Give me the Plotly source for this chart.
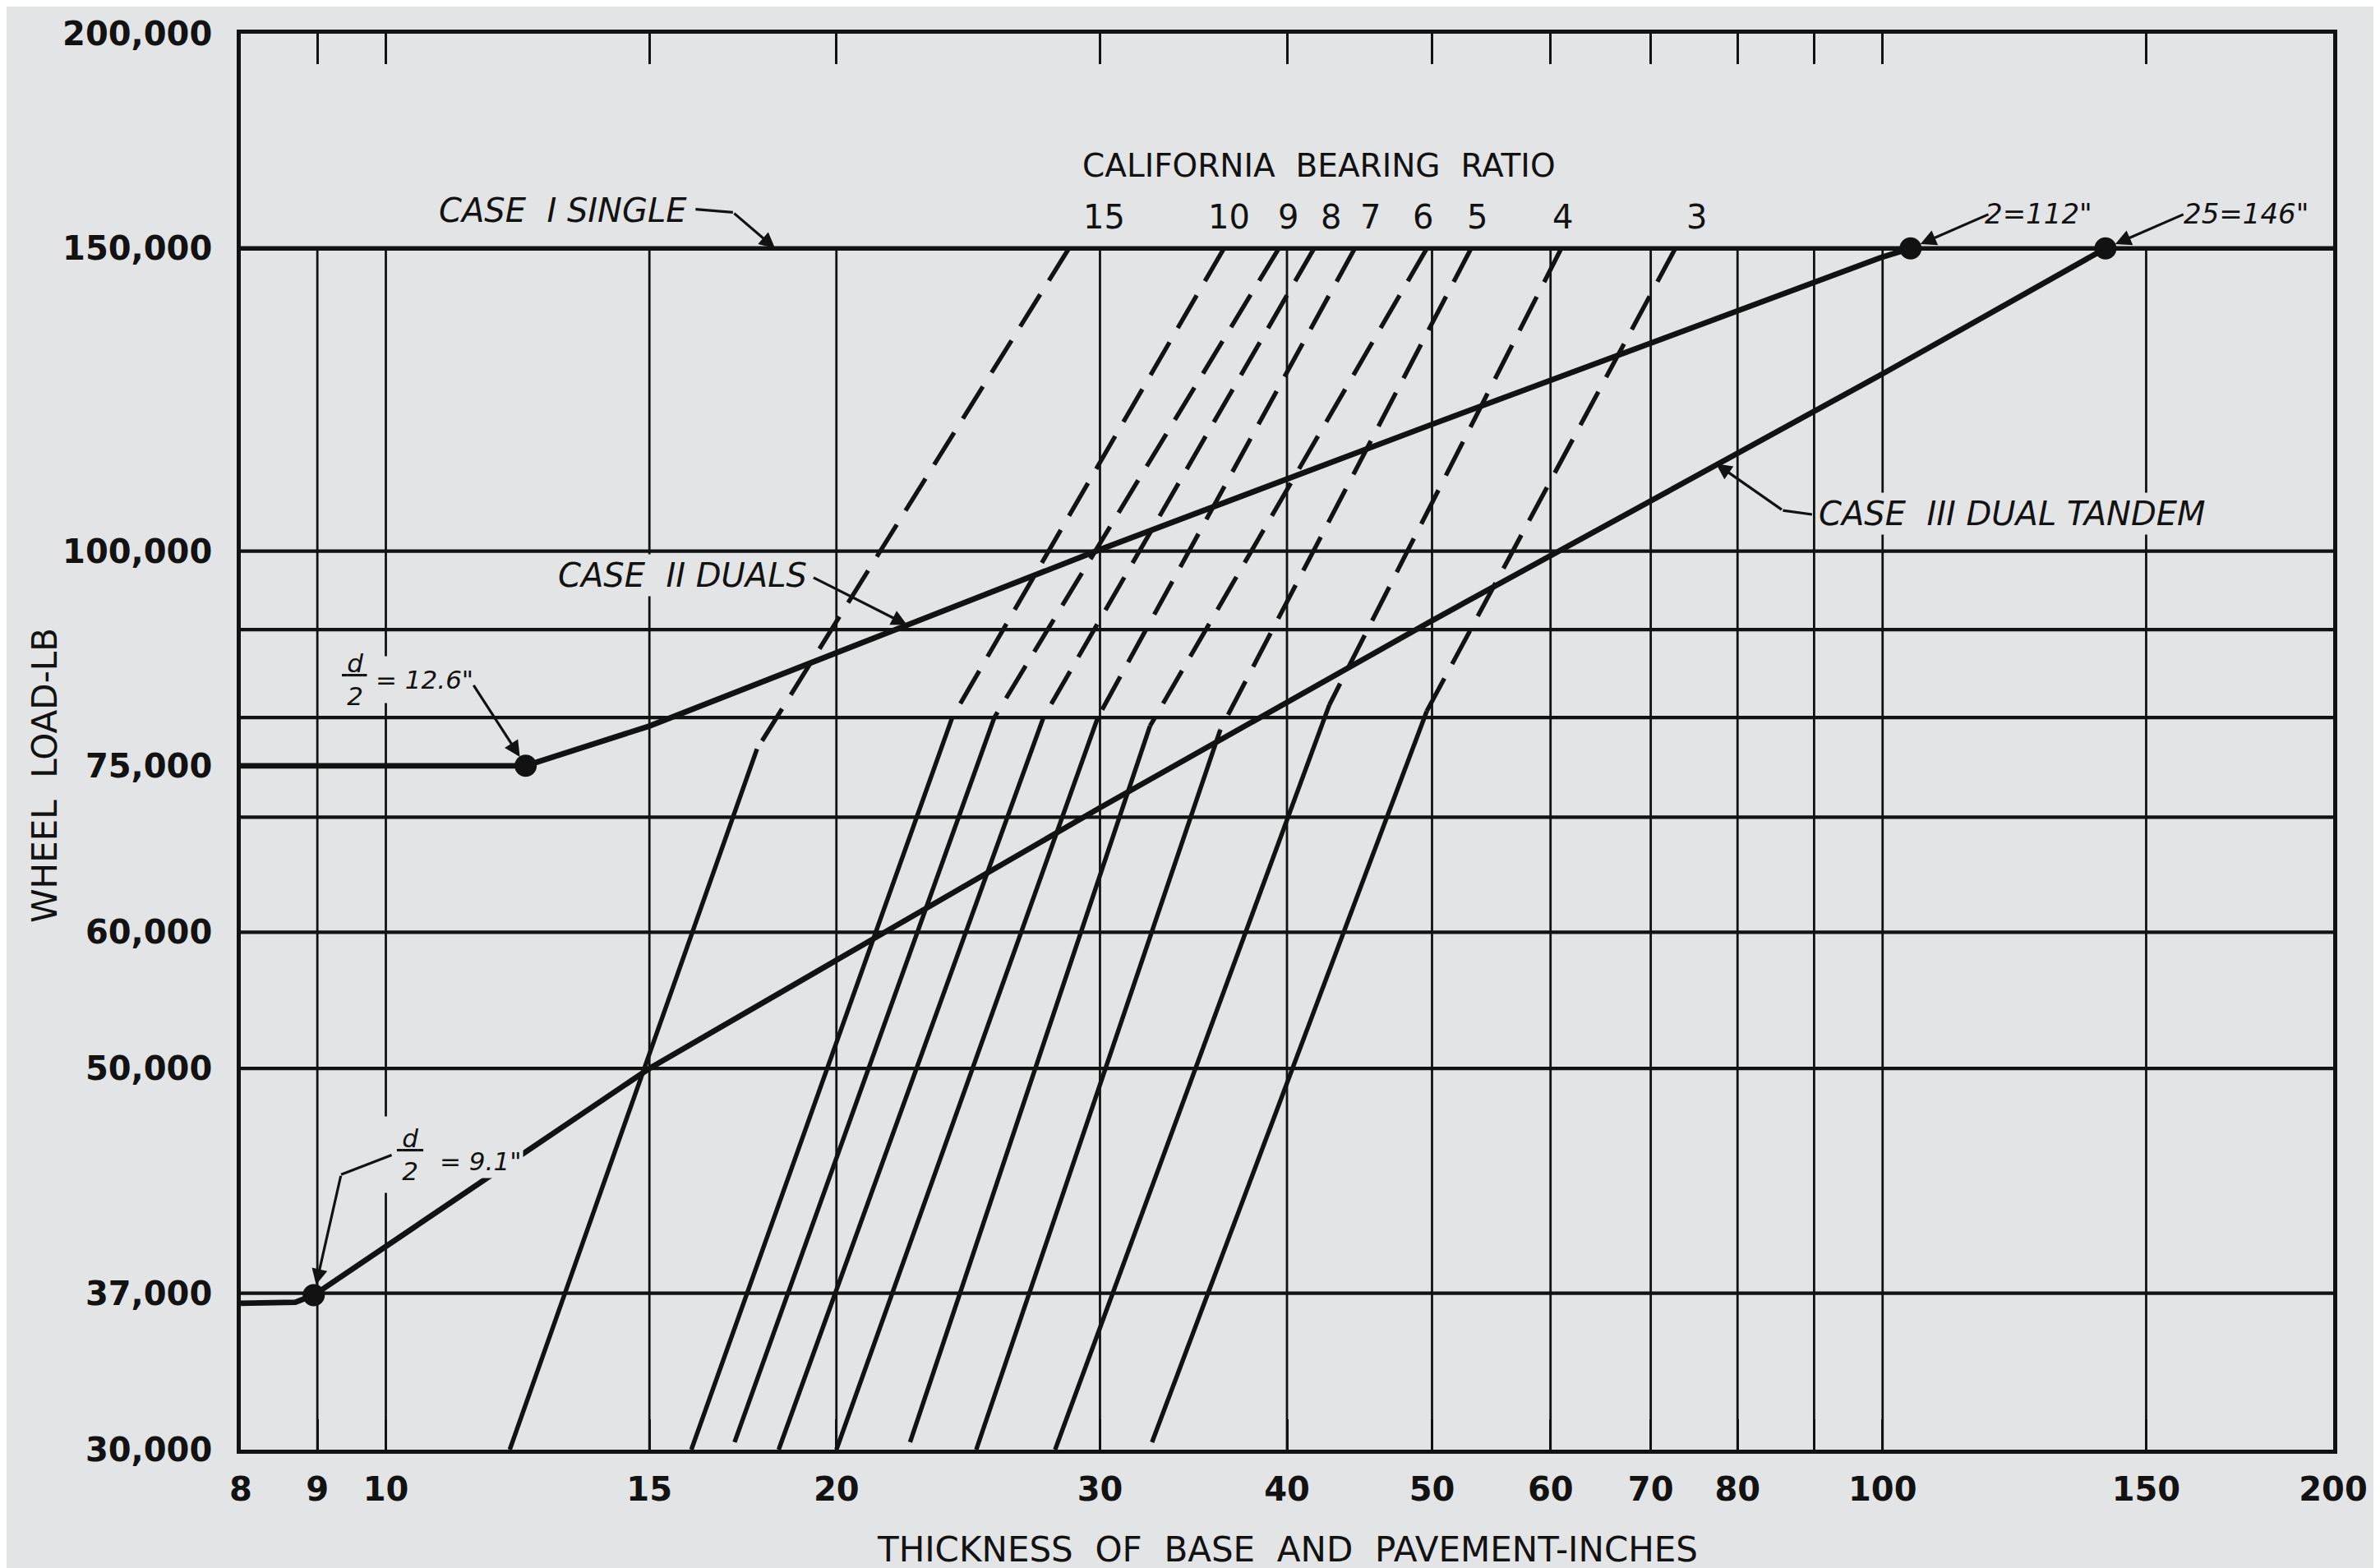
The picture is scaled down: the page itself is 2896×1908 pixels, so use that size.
import numpy as np
import plotly.graph_objects as go

# ---------------- data ----------------
x_tick_vals = [8, 9, 10, 15, 20, 30, 40, 50, 60, 70, 80, 90, 100, 150, 200]
x_tick_text = ["8", "9", "10", "15", "20", "30", "40", "50", "60", "70", "80", "", "100", "150", "200"]
y_tick_vals = [30000, 37000, 50000, 60000, 75000, 100000, 150000, 200000]
y_tick_text = ["30,000", "37,000", "50,000", "60,000", "75,000", "100,000", "150,000", "200,000"]

grid_x = [9, 10, 15, 20, 30, 40, 50, 60, 70, 80, 90, 100, 150]
grid_y = [37000, 50000, 60000, 70000, 80000, 90000, 100000]
grid_v_span = [30000, 150000]
grid_h_span = [8, 200]

cbr_values = ["15", "10", "9", "8", "7", "6", "5", "4", "3"]
cbr_bottom_x = [12.1, 16.0, 17.1, 18.3, 20.0, 22.4, 24.8, 28.0, 32.5]
cbr_bottom_y = [30000, 30000, 30300, 30000, 30000, 30300, 30000, 30000, 30300]
cbr_break_x = [17.7, 23.9, 25.5, 27.5, 29.9, 32.4, 36.1, 42.7, 49.6]
cbr_break_y = [76700, 80000, 80000, 80000, 80000, 79100, 78700, 81400, 80700]
cbr_top_x = [28.6, 36.3, 39.5, 41.7, 44.4, 49.6, 53.1, 61.0, 72.7]
cbr_top_y = [150000] * 9
cbr_label_x = [30.2, 36.6, 40.1, 42.8, 45.5, 49.3, 53.6, 61.1, 75.1]

case1_x = [8, 200]
case1_y = [150000, 150000]
case2_x = [8, 12.4, 15, 30, 50, 100, 104.4]
case2_y = [75000, 75000, 79100, 100200, 118500, 148300, 150000]
case2_dot_x = [12.4, 104.4]
case2_dot_y = [75000, 150000]
case3_x = [8, 8.7, 8.95, 15, 30, 50, 100, 140.9]
case3_y = [36500, 36550, 36900, 50000, 70900, 91100, 126800, 150000]
case3_dot_x = [8.95, 140.9]
case3_dot_y = [36900, 150000]

# ---------------- style ----------------
BG = "#e3e4e5"
INK = "#121212"
FONT = "DejaVu Sans"
L = np.log10

fig = go.Figure()

# grid lines
gx, gy = [], []
for v in grid_x:
    gx += [v, v, None]
    gy += [grid_v_span[0], grid_v_span[1], None]
fig.add_trace(go.Scatter(x=gx, y=gy, mode="lines", line=dict(color=INK, width=2.8),
                         hoverinfo="skip"))
hx, hy = [], []
for v in grid_y:
    hx += [grid_h_span[0], grid_h_span[1], None]
    hy += [v, v, None]
fig.add_trace(go.Scatter(x=hx, y=hy, mode="lines", line=dict(color=INK, width=4.2),
                         hoverinfo="skip"))

# CBR curves: solid lower part, dashed upper part
for i in range(len(cbr_values)):
    fig.add_trace(go.Scatter(x=[cbr_bottom_x[i], cbr_break_x[i]],
                             y=[cbr_bottom_y[i], cbr_break_y[i]],
                             mode="lines", line=dict(color=INK, width=5.4),
                             name="CBR " + cbr_values[i]))
    fig.add_trace(go.Scatter(x=[cbr_top_x[i], cbr_break_x[i]],
                             y=[cbr_top_y[i], cbr_break_y[i]],
                             mode="lines", line=dict(color=INK, width=5.4, dash="46px,20px"),
                             name="CBR " + cbr_values[i] + " (extrapolated)"))

# Cases
fig.add_trace(go.Scatter(x=case1_x, y=case1_y, mode="lines",
                         line=dict(color=INK, width=5.5), name="Case I single"))
fig.add_trace(go.Scatter(x=case2_x, y=case2_y, mode="lines",
                         line=dict(color=INK, width=6.8), name="Case II duals"))
fig.add_trace(go.Scatter(x=case3_x, y=case3_y, mode="lines",
                         line=dict(color=INK, width=6.8), name="Case III dual tandem"))
fig.add_trace(go.Scatter(x=case2_dot_x + case3_dot_x, y=case2_dot_y + case3_dot_y,
                         mode="markers", marker=dict(color=INK, size=27)))

# ---------------- annotations ----------------
ann = []


def text(t, x, y, size=40, xref="x", yref="y", bg=BG, **kw):
    d = dict(text=t, x=x, y=y, xref=xref, yref=yref, showarrow=False,
             xanchor="center", yanchor="middle",
             font=dict(family=FONT, size=size, color=INK), bgcolor=bg, borderpad=2)
    d.update(kw)
    ann.append(d)


def leader(tail, head, arrowhead=2, standoff=0):
    ann.append(dict(text="", x=head[0], y=head[1], ax=tail[0], ay=tail[1],
                    xref="x", yref="y", axref="x", ayref="y", showarrow=True,
                    arrowhead=arrowhead, arrowsize=1.2, arrowwidth=3.2,
                    arrowcolor=INK, standoff=standoff))


FRACTION = "<u>\u2009<i>d</i>\u2009</u><br><i>2</i>"

# titles
text("CALIFORNIA  BEARING  RATIO", 1.6236, 5.2243, size=39, bg=None)
for lab, lx in zip(cbr_values, cbr_label_x):
    text(lab, L(lx), 5.1944, size=40, bg=None)

text("<i>CASE  I SINGLE</i>", 1.1185, 5.198, size=40, bg=None)
leader((1.2061, 5.1989), (1.2319, 5.1971), arrowhead=0)
leader((1.2319, 5.1971), (L(18.2), L(150000)))

text("<i>CASE  II DUALS</i>", 1.198, 4.9858, size=40)
leader((1.2849, 4.9849), (1.3483, 4.957))

text("<i>CASE  III DUAL TANDEM</i>", 2.0868, 5.0217, size=40)
leader((1.9537, 5.0212), (1.9334, 5.0236), arrowhead=0)
leader((1.9334, 5.0236), (1.8887, 5.0508))

text('<i>2=112"</i>', 2.1043, 5.1962, size=34, bg=None)
leader((2.0715, 5.1962), (L(104.4), L(150000)), standoff=13)
text('<i>25=146"</i>', 2.2427, 5.1962, size=34, bg=None)
leader((2.2018, 5.1962), (L(140.9), L(150000)), standoff=13)

# d/2 = 12.6"
text(FRACTION, 0.9794, 4.9251, size=31)
text('<i>= 12.6"</i>', 1.0256, 4.9251, size=31, borderpad=10)
leader((1.0581, 4.9226), (L(12.4), L(75000)), standoff=13)

# d/2 = 9.1"
text(FRACTION, 1.0163, 4.6488, size=31, width=62, borderpad=8)
text('<i>= 9.1"</i>', 1.0630, 4.6451, size=31)
leader((1.0047, 4.6488), (0.9701, 4.6372), arrowhead=0)
leader((0.9701, 4.6372), (L(8.95), L(36900)), standoff=13)

# axis titles
text("THICKNESS  OF  BASE  AND  PAVEMENT-INCHES", 0.5, -0.0708, size=42,
     xref="paper", yref="paper", bg=None)
text("WHEEL  LOAD-LB", -0.0935, 0.4765, size=42, xref="paper", yref="paper",
     bg=None, textangle=-90)

fig.update_layout(
    width=2896, height=1908,
    margin=dict(l=285, r=65, t=33, b=152, autoexpand=False),
    paper_bgcolor=BG, plot_bgcolor=BG,
    showlegend=False,
    annotations=ann,
    xaxis=dict(type="log", range=[L(8), L(200)], showgrid=False, zeroline=False,
               showline=True, linewidth=4.5, linecolor=INK, mirror="ticks",
               ticks="inside", ticklen=37, tickwidth=3.2, tickcolor=INK,
               tickmode="array", tickvals=x_tick_vals, ticktext=x_tick_text,
               tickfont=dict(family=FONT, size=40, color=INK, weight="bold"),
               ticklabelstandoff=9),
    yaxis=dict(type="log", range=[L(30000), L(200000)], showgrid=False, zeroline=False,
               showline=True, linewidth=4.5, linecolor=INK, mirror=True, ticks="",
               tickmode="array", tickvals=y_tick_vals, ticktext=y_tick_text,
               tickfont=dict(family=FONT, size=40, color=INK, weight="bold"),
               ticklabelstandoff=22),
)

fig.write_html("out.html")
